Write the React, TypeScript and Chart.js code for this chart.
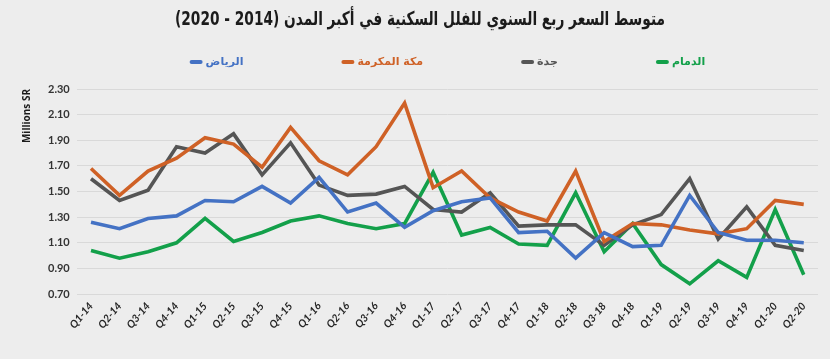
import React, { useEffect, useRef } from "react";
import { Chart, registerables } from "chart.js";

Chart.register(...registerables);

const categories = [
  "Q1-14", "Q2-14", "Q3-14", "Q4-14",
  "Q1-15", "Q2-15", "Q3-15", "Q4-15",
  "Q1-16", "Q2-16", "Q3-16", "Q4-16",
  "Q1-17", "Q2-17", "Q3-17", "Q4-17",
  "Q1-18", "Q2-18", "Q3-18", "Q4-18",
  "Q1-19", "Q2-19", "Q3-19", "Q4-19",
  "Q1-20", "Q2-20",
];

const riyadh = [1.26, 1.21, 1.29, 1.31, 1.43, 1.42, 1.54, 1.41, 1.61, 1.34, 1.41, 1.22, 1.35, 1.42, 1.45, 1.18, 1.19, 0.98, 1.18, 1.07, 1.08, 1.47, 1.18, 1.12, 1.12, 1.10];
const makkah = [1.68, 1.47, 1.66, 1.76, 1.92, 1.87, 1.69, 2.00, 1.74, 1.63, 1.85, 2.19, 1.53, 1.66, 1.45, 1.34, 1.27, 1.66, 1.11, 1.25, 1.24, 1.20, 1.17, 1.21, 1.43, 1.40];
const jeddah = [1.60, 1.43, 1.51, 1.85, 1.80, 1.95, 1.63, 1.88, 1.55, 1.47, 1.48, 1.54, 1.36, 1.34, 1.49, 1.23, 1.24, 1.24, 1.08, 1.24, 1.32, 1.60, 1.13, 1.38, 1.08, 1.04];
const dammam = [1.04, 0.98, 1.03, 1.10, 1.29, 1.11, 1.18, 1.27, 1.31, 1.25, 1.21, 1.25, 1.65, 1.16, 1.22, 1.09, 1.08, 1.49, 1.03, 1.25, 0.93, 0.78, 0.96, 0.83, 1.36, 0.85];

const seriesNames = ["الرياض", "مكة المكرمة", "جدة", "الدمام"];
const seriesColors = ["#4472C4", "#CF6126", "#555555", "#13A04A"];

const titleText = "متوسط السعر ربع السنوي للفلل السكنية في أكبر المدن (2014 - 2020)";
const yAxisTitle = "Millions SR";
const yMin = 0.7;
const yMax = 2.3;
const yStep = 0.2;

const overlayPlugin = {
  id: "overlay",
  afterDraw(chart: any) {
    const ctx = chart.ctx as CanvasRenderingContext2D;
    const area = chart.chartArea;
    ctx.save();
    (ctx as any).direction = "rtl";
    ctx.font = "bold 19px 'DejaVu Sans', sans-serif";
    ctx.fillStyle = "#1b1b1b";
    ctx.textAlign = "center";
    ctx.textBaseline = "middle";
    const tw = ctx.measureText(titleText).width;
    const sx = Math.min(1, 490 / tw);
    ctx.save();
    ctx.translate(420, 20);
    ctx.scale(sx, 1);
    ctx.fillText(titleText, 0, 0);
    ctx.restore();

    // legend
    ctx.font = "bold 11px 'DejaVu Sans', sans-serif";
    const boxW = 13;
    const boxH = 4;
    const gap = 3;
    const between = 98;
    const items = chart.data.datasets.map((ds: any) => ({
      label: ds.label as string,
      color: ds.borderColor as string,
      w: boxW + gap + ctx.measureText(ds.label).width,
    }));
    const total = items.reduce((s: number, it: any) => s + it.w, 0) + between * (items.length - 1);
    let x = (area.left + area.right) / 2 - total / 2;
    const y = 62;
    ctx.textAlign = "left";
    for (const it of items) {
      ctx.fillStyle = it.color;
      ctx.beginPath();
      (ctx as any).roundRect(x, y - boxH / 2, boxW, boxH, 2);
      ctx.fill();
      ctx.fillText(it.label, x + boxW + gap, y);
      x += it.w + between;
    }
    ctx.restore();
  },
};

export default function App() {
  const canvasRef = useRef<HTMLCanvasElement | null>(null);

  useEffect(() => {
    if (!canvasRef.current) return;
    const datasets = [riyadh, makkah, jeddah, dammam].map((data, i) => ({
      label: seriesNames[i],
      data,
      borderColor: seriesColors[i],
      backgroundColor: seriesColors[i],
      borderWidth: 3.6,
      pointRadius: 0,
      tension: 0,
      fill: false,
    }));
    const chart = new Chart(canvasRef.current, {
      type: "line",
      data: { labels: categories, datasets },
      options: {
        animation: false,
        responsive: false,
        maintainAspectRatio: false,
        layout: { padding: { top: 89, left: 21, right: 12, bottom: 22 } },
        plugins: {
          legend: { display: false },
          title: { display: false },
          tooltip: { enabled: false },
        },
        scales: {
          x: {
            offset: true,
            grid: { display: false, drawTicks: false },
            border: { display: false },
            ticks: {
              color: "#262626",
              font: { family: "Lato, 'DejaVu Sans', sans-serif", size: 10.5, weight: "bold", style: "italic" },
              minRotation: 50,
              maxRotation: 50,
              padding: 6,
              autoSkip: false,
            },
          },
          y: {
            min: yMin,
            max: yMax,
            grid: { color: "#D9D9D9", lineWidth: 1, drawTicks: false },
            border: { display: false },
            ticks: {
              stepSize: yStep,
              color: "#333333",
              padding: 7,
              font: { family: "Lato, 'DejaVu Sans', sans-serif", size: 11, weight: "bold" },
              callback: (v: any) => Number(v).toFixed(2),
            },
            title: {
              display: true,
              text: yAxisTitle,
              align: "end",
              color: "#1b1b1b",
              font: { family: "'Open Sans', sans-serif", size: 10, weight: "bold" },
              padding: { top: 0, bottom: 8 },
            },
          },
        },
      },
      plugins: [overlayPlugin],
    });
    return () => chart.destroy();
  }, []);

  return (
    <div style={{ position: "fixed", left: 0, top: 0, width: 830, height: 359, background: "#EDEDED" }}>
      <canvas ref={canvasRef} width={830} height={359} style={{ width: 830, height: 359, display: "block" }} />
    </div>
  );
}
